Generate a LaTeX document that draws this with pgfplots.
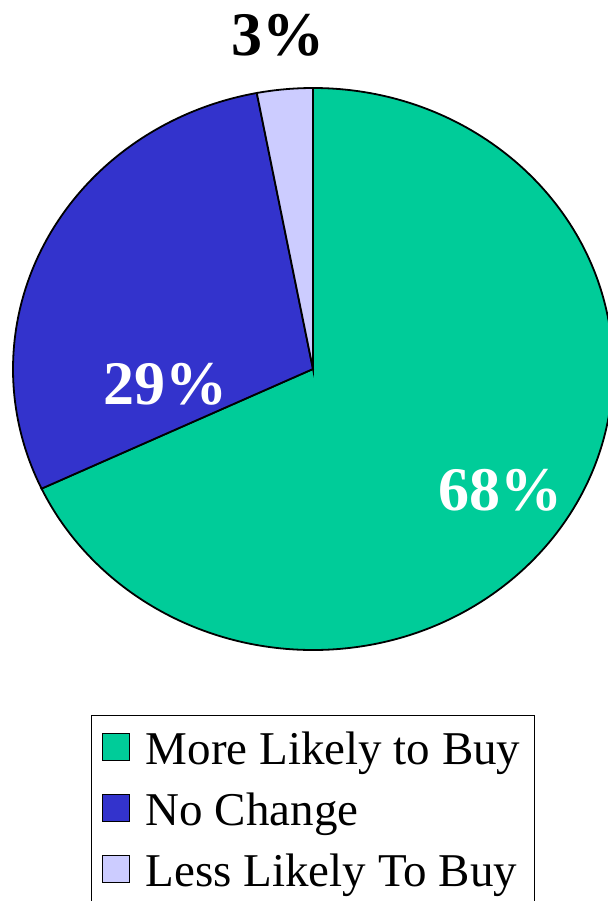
\documentclass[border=0pt]{standalone}
\usepackage{pgfplots}
\usepackage{pgfplotstable}
\pgfplotsset{compat=1.18}
\usepackage{fontspec}
\setmainfont{Liberation Serif}

\definecolor{cgreen}{HTML}{00CC99}
\definecolor{cblue}{HTML}{3333CC}
\definecolor{clight}{HTML}{CCCCFF}

\pgfplotstableread{
label value
More 68
NoChange 29
Less 3
}\pietab

\pgfplotstablegetelem{0}{value}\of\pietab \let\va\pgfplotsretval
\pgfplotstablegetelem{1}{value}\of\pietab \let\vb\pgfplotsretval
\pgfplotstablegetelem{2}{value}\of\pietab \let\vc\pgfplotsretval
\pgfmathsetmacro\aa{90}
\pgfmathsetmacro\ab{\aa-3.6*\va}
\pgfmathsetmacro\ac{\ab-3.6*\vb}
\pgfmathsetmacro\ad{\ac-3.6*\vc}

\begin{document}
\begin{tikzpicture}
\begin{axis}[
    at={(0,0)}, anchor=origin,
    x=150pt, y=140.5pt,
    xmin=-1, xmax=1, ymin=-1, ymax=1,
    hide axis, clip=false,
    legend style={at={(0.5,-0.1155)}, anchor=north, draw=black, line width=0.75pt,
        font=\fontsize{23.5}{28}\selectfont, inner xsep=5pt, inner ysep=6pt,
        row sep=8.8pt, /tikz/every odd column/.append style={column sep=6pt}},
    legend cell align=left,
]
\fill[cgreen, draw=black, line width=0.9pt] (axis cs:0,0) -- (axis cs:{cos(\aa)},{sin(\aa)})
    arc[start angle=\aa, end angle=\ab, x radius=150pt, y radius=140.5pt] -- cycle;
\fill[cblue, draw=black, line width=0.9pt] (axis cs:0,0) -- (axis cs:{cos(\ab)},{sin(\ab)})
    arc[start angle=\ab, end angle=\ac, x radius=150pt, y radius=140.5pt] -- cycle;
\fill[clight, draw=black, line width=0.9pt] (axis cs:0,0) -- (axis cs:{cos(\ac)},{sin(\ac)})
    arc[start angle=\ac, end angle=\ad, x radius=150pt, y radius=140.5pt] -- cycle;

\node[anchor=base, text=white, font=\fontsize{31}{31}\selectfont\bfseries] at (axis cs:0.625,-0.502) {68\%};
\node[anchor=base, text=white, font=\fontsize{31}{31}\selectfont\bfseries] at (axis cs:-0.49,-0.125) {29\%};
\node[anchor=base, text=black, font=\fontsize{31}{31}\selectfont\bfseries] at (axis cs:-0.115,1.114) {3\%};

\addlegendimage{legend image code/.code={\draw[fill=cgreen,draw=black,line width=0.6pt] (0pt,-5.5pt) rectangle (13.5pt,8pt);}}
\addlegendentry{More Likely to Buy}
\addlegendimage{legend image code/.code={\draw[fill=cblue,draw=black,line width=0.6pt] (0pt,-5.5pt) rectangle (13.5pt,8pt);}}
\addlegendentry{No Change}
\addlegendimage{legend image code/.code={\draw[fill=clight,draw=black,line width=0.6pt] (0pt,-5.5pt) rectangle (13.5pt,8pt);}}
\addlegendentry{Less Likely To Buy}
\end{axis}
\pgfresetboundingbox
\useasboundingbox (-156.5pt,-266pt) rectangle (147.5pt,184.5pt);
\end{tikzpicture}
\end{document}
